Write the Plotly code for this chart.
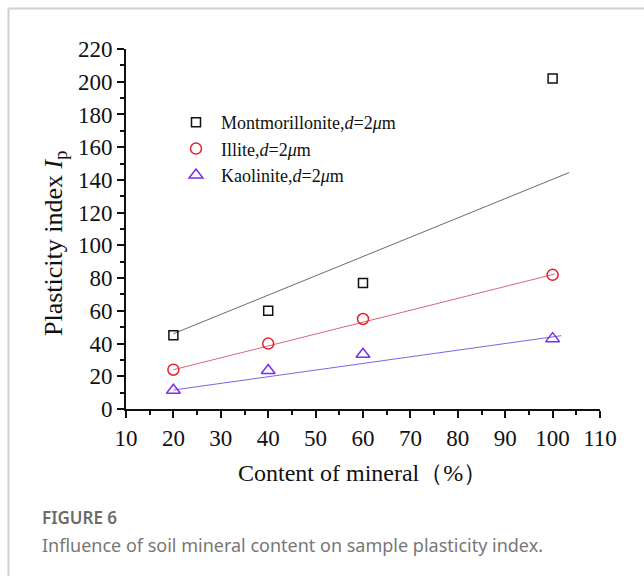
import plotly.graph_objects as go

# ---- data ----
content = [20, 40, 60, 100]
montmorillonite = [45, 60, 77, 202]
illite = [24, 40, 55, 82]
kaolinite = [11.5, 23.5, 33.5, 43]

fit_m_x = [20, 103.5]
fit_m_y = [46, 144.5]
fit_i_x = [20, 100.5]
fit_i_y = [24, 82.5]
fit_k_x = [20, 101.8]
fit_k_y = [11.6, 44.8]

names = ["Montmorillonite,<i>d</i>=2<i>μ</i>m",
         "Illite,<i>d</i>=2<i>μ</i>m",
         "Kaolinite,<i>d</i>=2<i>μ</i>m"]

x_ticks = [10, 20, 30, 40, 50, 60, 70, 80, 90, 100, 110]
y_ticks = [0, 20, 40, 60, 80, 100, 120, 140, 160, 180, 200, 220]

SERIF = "Liberation Serif, Times New Roman, serif"
SANS = "Noto Sans, Open Sans, sans-serif"

fig = go.Figure()

# fit lines
fig.add_trace(go.Scatter(x=fit_m_x, y=fit_m_y, mode="lines",
                         line=dict(color="#6a6a6a", width=1), showlegend=False))
fig.add_trace(go.Scatter(x=fit_i_x, y=fit_i_y, mode="lines",
                         line=dict(color="#d9687a", width=1), showlegend=False))
fig.add_trace(go.Scatter(x=fit_k_x, y=fit_k_y, mode="lines",
                         line=dict(color="#7a66e0", width=1), showlegend=False))

# markers
fig.add_trace(go.Scatter(x=content, y=montmorillonite, mode="markers", name=names[0],
                         marker=dict(symbol="square-open", size=9, color="#111111",
                                     line=dict(width=1.5))))
fig.add_trace(go.Scatter(x=content, y=illite, mode="markers", name=names[1],
                         marker=dict(symbol="circle-open", size=11, color="#e8202a",
                                     line=dict(width=1.5))))
fig.add_trace(go.Scatter(x=content, y=kaolinite, mode="markers", name=names[2],
                         marker=dict(symbol="triangle-up-open", size=12, color="#7b2fe8",
                                     line=dict(width=1.5))))

L, R, T, B = 126, 44, 49, 167
W, H = 644, 576
pw = W - L - R
ph = H - T - B


def px(xp):
    return (xp - L) / pw


def py(yp):
    return (H - B - yp) / ph


fig.update_layout(
    width=W, height=H,
    margin=dict(l=L, r=R, t=T, b=B),
    paper_bgcolor="white", plot_bgcolor="white",
    font=dict(family=SERIF, color="#111111"),
    showlegend=True,
    legend=dict(x=px(171), y=py(104), xanchor="left", yanchor="top",
                bgcolor="rgba(0,0,0,0)", font=dict(family=SERIF, size=18, color="#111111"),
                tracegroupgap=0, itemsizing="trace", itemwidth=40),
    xaxis=dict(range=[10, 110], tickvals=x_ticks, ticktext=[str(v) for v in x_ticks],
               showgrid=False, zeroline=False, showline=True, linecolor="#111111", linewidth=1.8,
               ticks="outside", ticklen=7, tickwidth=1.8, tickcolor="#111111",
               tickfont=dict(family=SERIF, size=23, color="#111111"),
               minor=dict(dtick=5, ticks="outside", ticklen=4, tickwidth=1.5, tickcolor="#111111")),
    yaxis=dict(range=[0, 220], tickvals=y_ticks, ticktext=[str(v) for v in y_ticks],
               showgrid=False, zeroline=False, showline=True, linecolor="#111111", linewidth=1.8,
               ticks="outside", ticklen=7, tickwidth=1.8, tickcolor="#111111",
               tickfont=dict(family=SERIF, size=23, color="#111111"),
               minor=dict(dtick=10, ticks="outside", ticklen=4, tickwidth=1.5, tickcolor="#111111")),
)

annotations = [
    dict(text="Plasticity index <i>I</i><sub>p</sub>", x=px(55), y=py(244), xref="paper", yref="paper",
         textangle=-90, showarrow=False, font=dict(family=SERIF, size=26, color="#111111"),
         xanchor="center", yanchor="middle"),
    dict(text="Content of mineral（%）", x=px(362), y=py(473), xref="paper", yref="paper",
         showarrow=False, font=dict(family=SERIF, size=24, color="#111111"),
         xanchor="center", yanchor="middle"),
    dict(text="FIGURE 6", x=px(40), y=py(517), xref="paper", yref="paper",
         showarrow=False, font=dict(family=SANS, size=17, color="#6b6b6b", weight=600),
         xanchor="left", yanchor="middle"),
    dict(text="Influence of soil mineral content on sample plasticity index.", x=px(40), y=py(545),
         xref="paper", yref="paper", showarrow=False,
         font=dict(family=SANS, size=18, color="#777777"),
         xanchor="left", yanchor="middle"),
]
fig.update_layout(annotations=annotations)

# card border
fig.add_shape(type="line", xref="paper", yref="paper", x0=px(8.5), x1=px(650), y0=py(8.5), y1=py(8.5),
              line=dict(color="#d0d0d0", width=2))
fig.add_shape(type="line", xref="paper", yref="paper", x0=px(8.5), x1=px(8.5), y0=py(8.5), y1=py(580),
              line=dict(color="#d0d0d0", width=2))

fig.write_html("out.html")
